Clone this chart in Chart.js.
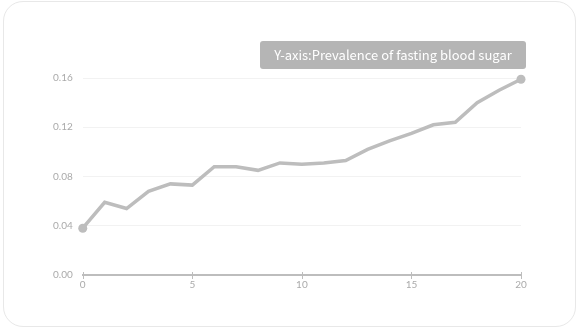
<!DOCTYPE html>
<html>
<head>
<meta charset="utf-8">
<script src="https://cdn.jsdelivr.net/npm/chart.js@4/dist/chart.umd.min.js"></script>
<style>
  html, body { margin: 0; padding: 0; background: #fff; }
  #wrap { position: relative; width: 580px; height: 330px; }
  #card { position: absolute; left: 3px; top: 1px; width: 573px; height: 326px; box-sizing: border-box;
          border: 1px solid #e8e8e8; border-radius: 20px; background: #fff; }
  #c { position: absolute; left: 0; top: 0; }
</style>
</head>
<body>
<div id="wrap">
  <div id="card"></div>
  <canvas id="c" width="580" height="330"></canvas>
</div>
<script>
const xValues = [0,1,2,3,4,5,6,7,8,9,10,11,12,13,14,15,16,17,18,19,20];
const prevalence = [0.038,0.059,0.054,0.068,0.074,0.073,0.088,0.088,0.085,0.091,0.090,0.091,0.093,0.102,0.109,0.115,0.122,0.124,0.140,0.150,0.159];
const yTicks = [0, 0.04, 0.08, 0.12, 0.16];
const xTicks = [0, 5, 10, 15, 20];
const titleText = 'Y-axis:Prevalence of fasting blood sugar';

const FONT = '"Noto Sans CJK KR", "Noto Sans", sans-serif';
const TICKFONT = 'Lato, "Noto Sans", sans-serif';

const titleBox = {
  id: 'titleBox',
  afterDraw(chart) {
    const ctx = chart.ctx;
    ctx.save();
    ctx.font = '13px ' + FONT;
    const w = 266, h = 28;
    const x = 260, y = 41;
    ctx.fillStyle = '#b5b5b5';
    ctx.beginPath();
    ctx.roundRect(x, y, w, h, 3);
    ctx.fill();
    ctx.fillStyle = '#ffffff';
    ctx.textAlign = 'center';
    ctx.textBaseline = 'middle';
    ctx.fillText(titleText, x + w / 2, y + h / 2);
    ctx.restore();
  }
};

const xTickMarks = {
  id: 'xTickMarks',
  afterDatasetsDraw(chart) {
    const ctx = chart.ctx;
    const xs = chart.scales.x;
    const yb = chart.chartArea.bottom;
    ctx.save();
    ctx.strokeStyle = '#bdbdbd';
    ctx.lineWidth = 1;
    xTicks.forEach(v => {
      const px = Math.round(xs.getPixelForValue(v)) + 0.5;
      ctx.beginPath();
      ctx.moveTo(px, yb - 3);
      ctx.lineTo(px, yb + 4);
      ctx.stroke();
    });
    ctx.restore();
  }
};

const last = prevalence.length - 1;
new Chart(document.getElementById('c'), {
  type: 'line',
  data: {
    datasets: [{
      data: xValues.map((x, i) => ({ x: x, y: prevalence[i] })),
      borderColor: '#bdbdbd',
      backgroundColor: '#bdbdbd',
      borderWidth: 3.5,
      tension: 0,
      clip: false,
      pointRadius: c => (c.dataIndex === 0 || c.dataIndex === last) ? 4.5 : 0,
      pointBorderWidth: 0,
      pointBackgroundColor: '#bdbdbd'
    }]
  },
  options: {
    responsive: false,
    animation: false,
    devicePixelRatio: 1,
    layout: { padding: { left: 43, right: 59, top: 78, bottom: 35 } },
    plugins: { legend: { display: false }, tooltip: { enabled: false }, title: { display: false } },
    scales: {
      x: {
        type: 'linear', min: 0, max: 20,
        afterBuildTicks: s => { s.ticks = xTicks.map(v => ({ value: v })); },
        grid: { display: true, drawOnChartArea: false, drawTicks: false },
        border: { display: true, color: '#bdbdbd', width: 2 },
        ticks: { color: '#aaaaaa', font: { family: TICKFONT, size: 10 }, padding: 4 }
      },
      y: {
        type: 'linear', min: 0, max: 0.16,
        afterBuildTicks: s => { s.ticks = yTicks.map(v => ({ value: v })); },
        grid: { color: '#f2f2f2', drawTicks: false, lineWidth: 1 },
        border: { display: false },
        ticks: { color: '#aaaaaa', font: { family: TICKFONT, size: 10 }, padding: 10,
                 callback: v => Number(v).toFixed(2) }
      }
    }
  },
  plugins: [titleBox, xTickMarks]
});
</script>
</body>
</html>
